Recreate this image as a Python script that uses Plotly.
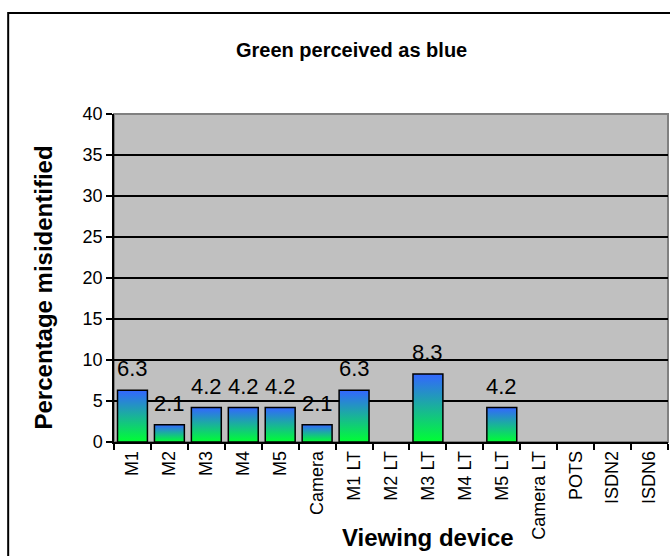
import plotly.graph_objects as go

categories = ["M1", "M2", "M3", "M4", "M5", "Camera", "M1 LT", "M2 LT", "M3 LT",
              "M4 LT", "M5 LT", "Camera LT", "POTS", "ISDN2", "ISDN6"]
values = [6.3, 2.1, 4.2, 4.2, 4.2, 2.1, 6.3, 0, 8.3, 0, 4.2, 0, 0, 0, 0]
y_ticks = [0, 5, 10, 15, 20, 25, 30, 35, 40]

FONT = "Arial, Liberation Sans, sans-serif"
HALF = 0.405

fig = go.Figure()
for i, v in enumerate(values):
    if v == 0:
        continue
    fig.add_trace(go.Scatter(
        x=[i - HALF, i - HALF, i + HALF, i + HALF, i - HALF],
        y=[0, v, v, 0, 0],
        mode="lines", fill="toself",
        line=dict(color="black", width=1.5),
        fillgradient=dict(type="vertical",
                          colorscale=[[0, "#00ff33"], [1, "#3366ff"]]),
        showlegend=False, hoverinfo="skip"))

annotations = [
    dict(x=i, y=v, xref="x", yref="y", text=f"{v:.1f}", showarrow=False,
         xanchor="center", yanchor="bottom", yshift=7,
         font=dict(family=FONT, size=22, color="black"))
    for i, v in enumerate(values) if v != 0
]

annotations += [
    dict(text="<b>Green perceived as blue</b>", xref="paper", yref="paper",
         x=0.428, y=1.195, xanchor="center", yanchor="middle",
         showarrow=False, font=dict(size=20)),
    dict(text="<b>Percentage misidentified</b>", xref="paper", yref="paper",
         x=-0.127, y=0.47, xanchor="center", yanchor="middle", textangle=-90,
         showarrow=False, font=dict(size=24)),
    dict(text="<b>Viewing device</b>", xref="paper", yref="paper",
         x=0.566, y=-0.29, xanchor="center", yanchor="middle",
         showarrow=False, font=dict(size=24)),
]

fig.update_layout(
    width=670, height=556,
    margin=dict(l=114, r=2, t=114, b=114),
    paper_bgcolor="white", plot_bgcolor="#c0c0c0",
    font=dict(family=FONT, color="black"),
    showlegend=False,
    xaxis=dict(range=[-0.5, len(categories) - 0.5],
               tickmode="array", tickvals=list(range(len(categories))),
               ticktext=categories, ticks="", tickangle=-90,
               tickfont=dict(size=18),
               showgrid=False, zeroline=False,
               showline=True, linecolor="black", linewidth=1.5,
               minor=dict(tickmode="array",
                          tickvals=[i - 0.5 for i in range(len(categories) + 1)],
                          ticks="outside", ticklen=6, tickcolor="black", tickwidth=1.5)),
    yaxis=dict(range=[0, 40], tickmode="array", tickvals=y_ticks,
               ticks="outside", ticklen=6, tickcolor="black", tickwidth=1.5,
               tickfont=dict(size=18),
               showgrid=True, gridcolor="black", gridwidth=1.5,
               zeroline=False, showline=True, linecolor="black", linewidth=1.5),
    shapes=[
        dict(type="rect", xref="paper", yref="paper", x0=0, x1=1, y0=0, y1=1,
             line=dict(color="#808080", width=2), layer="below"),
        dict(type="rect", xref="paper", yref="paper", x0=-0.191, x1=1.05,
             y0=-0.45, y1=1.308, line=dict(color="black", width=2), layer="below"),
    ],
    annotations=annotations,
)

fig.write_html("out.html",
               config={"displayModeBar": False},
               post_script="document.body.style.margin='0';document.body.style.overflow='hidden';")
